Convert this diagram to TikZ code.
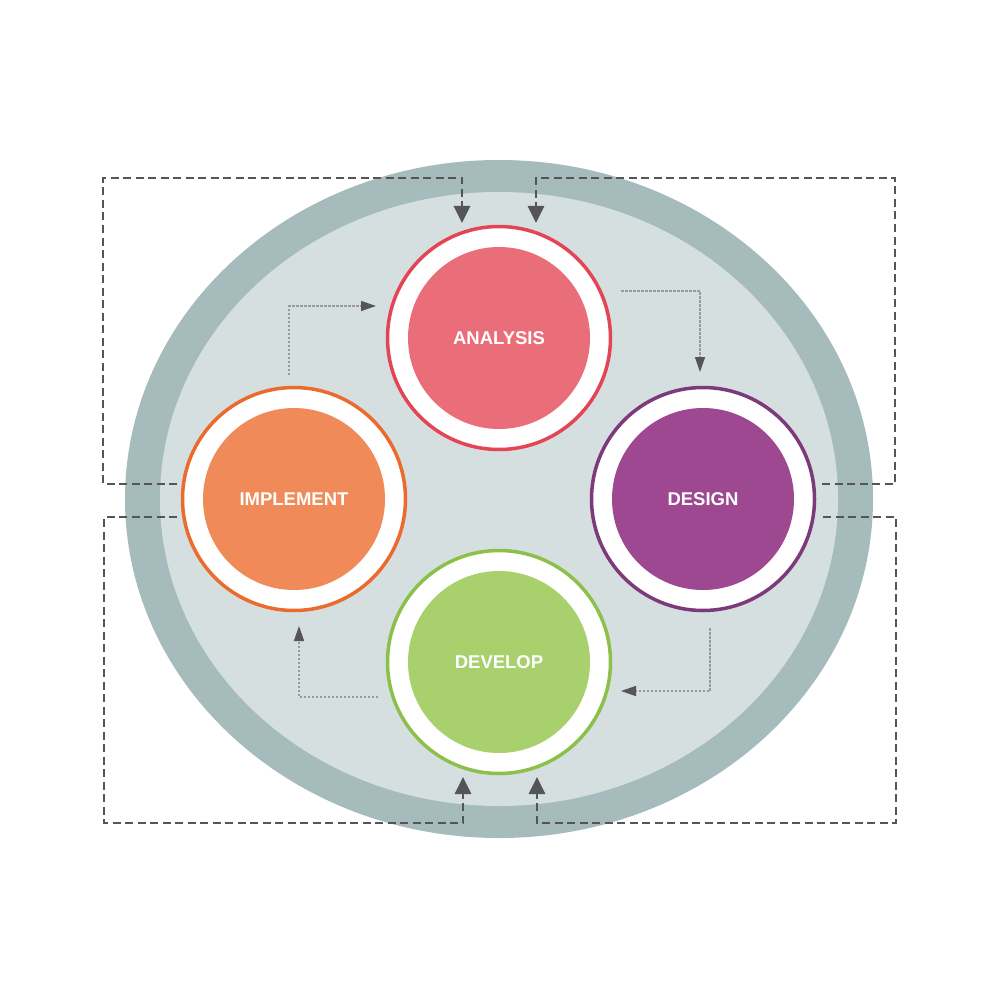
\documentclass[tikz,border=0pt]{standalone}
\usepackage{fontspec}
\setmainfont{Liberation Sans}
\usetikzlibrary{arrows.meta}
\definecolor{band}{HTML}{A6BBBC}
\definecolor{inner}{HTML}{D5DFE0}
\definecolor{anaR}{HTML}{E44555}
\definecolor{anaF}{HTML}{EA6E79}
\definecolor{impR}{HTML}{EB6B2E}
\definecolor{impF}{HTML}{F08A59}
\definecolor{desR}{HTML}{7D3A7B}
\definecolor{desF}{HTML}{9D4891}
\definecolor{devR}{HTML}{8DC04A}
\definecolor{devF}{HTML}{A8D06C}
\definecolor{dash}{HTML}{555555}
\definecolor{dotc}{HTML}{9A9A9A}
\tikzset{
  ring/.style={circle, draw=#1, fill=white, line width=3.5pt, minimum size=223pt, inner sep=0pt},
  core/.style={circle, fill=#1, minimum size=182pt, inner sep=0pt, text=white,
    font=\bfseries\fontsize{18.5}{20}\selectfont},
  feedback/.style={draw=dash, line width=2.8pt, dash pattern=on 8pt off 4.5pt,
    -{Triangle[width=16pt,length=17pt,color=dash]}},
  flow/.style={draw=dotc, line width=1.4pt, dash pattern=on 2.5pt off 1.5pt,
    -{Triangle[width=10pt,length=15pt,color=dash]}}
}
\begin{document}
\begin{tikzpicture}[x=1pt,y=-1pt]
\useasboundingbox (0,0) rectangle (1000,1000);
\fill[band] (499,499) ellipse [x radius=374, y radius=339];
\fill[inner] (499,499) ellipse [x radius=339, y radius=307];

% nodes
\node[ring=anaR] (A) at (499,338) {};
\node[core=anaF] (Ac) at (A) {ANALYSIS};
\node[ring=impR] (I) at (294,499) {};
\node[core=impF] (Ic) at (I) {IMPLEMENT};
\node[ring=desR] (D) at (703,499) {};
\node[core=desF] (Dc) at (D) {DESIGN};
\node[ring=devR] (V) at (499,662) {};
\node[core=devF] (Vc) at (V) {DEVELOP};

% feedback connector coordinates
\coordinate (tl0) at (177,484);
\coordinate (tl1) at (103,178);
\coordinate (tlE) at (462,223);
\coordinate (tr0) at (822,484);
\coordinate (tr1) at (895,178);
\coordinate (trE) at (536,223);
\coordinate (bl0) at (177,517);
\coordinate (bl1) at (104,823);
\coordinate (blE) at (463,777);
\coordinate (br0) at (823,517);
\coordinate (br1) at (896,823);
\coordinate (brE) at (537,777);

\draw[feedback] (tl0) -| (tl1) -| (tlE);
\draw[feedback] (tr0) -| (tr1) -| (trE);
\draw[feedback] (bl0) -| (bl1) -| (blE);
\draw[feedback] (br0) -| (br1) -| (brE);

% inner flow arrows
\coordinate (f1s) at (289,375);
\coordinate (f1e) at (376,306);
\coordinate (f2s) at (621,291);
\coordinate (f2e) at (700,372);
\coordinate (f3s) at (710,628);
\coordinate (f3e) at (621,691);
\coordinate (f4s) at (378,697);
\coordinate (f4e) at (299,626);
\draw[flow] (f1s) |- (f1e);
\draw[flow] (f2s) -| (f2e);
\draw[flow] (f3s) |- (f3e);
\draw[flow] (f4s) -| (f4e);
\end{tikzpicture}
\end{document}
